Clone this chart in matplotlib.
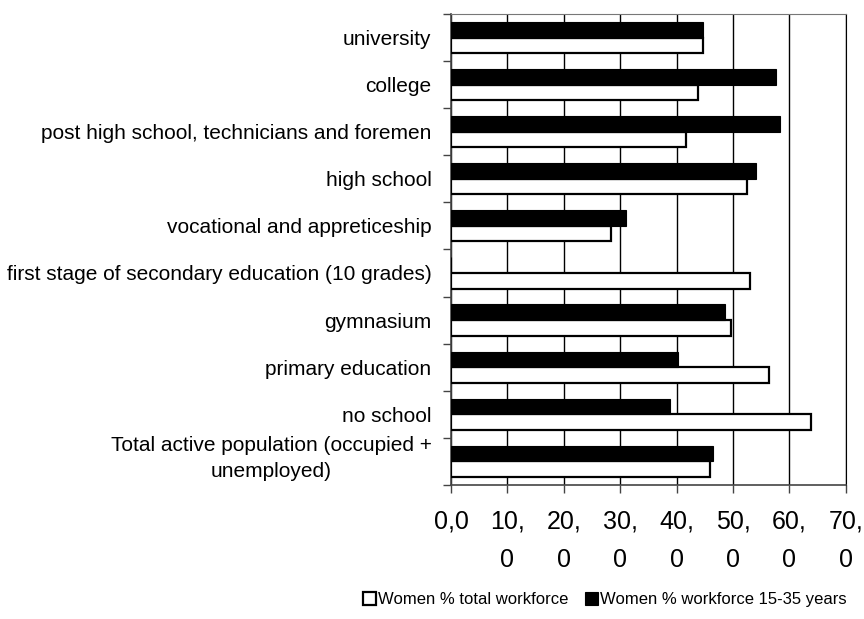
import numpy as np
import matplotlib.pyplot as plt
from matplotlib.ticker import FixedLocator
from matplotlib.transforms import ScaledTranslation

plt.rcParams['font.family'] = ['Liberation Sans', 'DejaVu Sans']

# Categories (top to bottom)
categories = [
    'university',
    'college',
    'post high school, technicians and foremen',
    'high school',
    'vocational and appreticeship',
    'first stage of secondary education (10 grades)',
    'gymnasium',
    'primary education',
    'no school',
    'Total active population (occupied +\nunemployed)',
]

# Women % total workforce
total_workforce = [44.6, 43.7, 41.7, 52.4, 28.4, 53.0, 49.7, 56.3, 63.8, 46.0]
# Women % workforce 15-35 years (no value for 10 grades)
young_workforce = [44.7, 57.7, 58.4, 54.0, 31.1, 0.0, 48.5, 40.2, 38.8, 46.5]

x_ticks = [0, 10, 20, 30, 40, 50, 60, 70]
x_tick_labels = ['0,0', '10,\n0', '20,\n0', '30,\n0', '40,\n0', '50,\n0', '60,\n0', '70,\n0']

fig = plt.figure(figsize=(8.64, 6.19), dpi=100)
ax = fig.add_axes([0.522, 0.217, 0.457, 0.760])

y = np.arange(len(categories))
h = 0.33
ax.barh(y + h / 2, total_workforce, height=h, color='white', edgecolor='black',
        linewidth=1.6, label='Women % total workforce', zorder=3)
ax.barh(y - h / 2, young_workforce, height=h, color='black', edgecolor='black',
        linewidth=0.8, label='Women % workforce 15-35 years', zorder=3)

ax.set_xlim(0, 70)
ax.set_ylim(len(categories) - 0.5, -0.5)

ax.set_xticks(x_ticks)
ax.set_xticklabels(x_tick_labels, fontsize=18, linespacing=1.75)
ax.tick_params(axis='x', direction='out', length=6, width=1, pad=12, color='#444444')

ax.set_yticks(y)
ax.set_yticklabels(categories, fontsize=15)
ax.tick_params(axis='y', which='major', length=0, pad=14)
last = ax.get_yticklabels()[-1]
last.set_multialignment('center')
last.set_linespacing(1.45)
last.set_transform(last.get_transform() + ScaledTranslation(0, 6 / 72, fig.dpi_scale_trans))
ax.yaxis.set_minor_locator(FixedLocator(np.arange(len(categories) + 1) - 0.5))
ax.tick_params(axis='y', which='minor', direction='out', length=6, width=1, color='#444444')

ax.grid(axis='x', color='black', linewidth=1, zorder=0)
for s in ['left', 'bottom']:
    ax.spines[s].set_color('#444444')
    ax.spines[s].set_linewidth(1.2)
ax.spines['top'].set_color('#777777')
ax.spines['right'].set_color('black')

handles, labels = ax.get_legend_handles_labels()
fig.legend(handles, labels, loc='lower center', bbox_to_anchor=(0.70, -0.005), ncol=2,
           frameon=False, fontsize=12, handlelength=0.8, handleheight=0.8,
           handletextpad=0.1, columnspacing=1.0)

fig.savefig('out.png', dpi=100)
